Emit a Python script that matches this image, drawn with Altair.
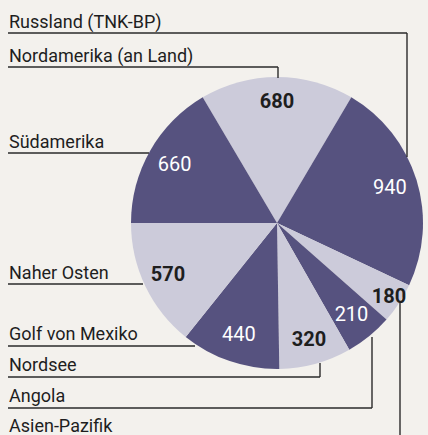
import altair as alt
import pandas as pd

# ---- data (clockwise from the top slice) ----
regions = ["Nordamerika (an Land)", "Russland (TNK-BP)", "Asien-Pazifik", "Angola",
           "Nordsee", "Golf von Mexiko", "Naher Osten", "Südamerika"]
values = [680, 940, 180, 210, 320, 440, 570, 660]

# label column order (top to bottom)
label_names = ["Russland (TNK-BP)", "Nordamerika (an Land)", "Südamerika", "Naher Osten",
               "Golf von Mexiko", "Nordsee", "Angola", "Asien-Pazifik"]

# ---- layout constants ----
W, H = 428, 435
CX, CY, R = 277, 223, 146
START = -0.534  # radians, so the top slice is centred at 12 o'clock
TWO_PI = 6.283185307
DARK = "#56527f"
LIGHT = "#cccbda"
BG = "#f3f1ed"
INK = "#1e1e1e"
FONT = "Roboto, sans-serif"

label_baselines = [28, 62, 148, 279, 340, 371, 402, 432]
leader_segments = [
    (8, 33, 407, 33), (407, 33, 407, 157),
    (8, 67, 278, 67), (278, 67, 278, 78),
    (8, 153, 149, 153),
    (8, 284, 143, 284),
    (8, 346, 195, 346),
    (8, 377, 320, 377), (320, 377, 320, 363),
    (8, 408, 372, 408), (372, 408, 372, 337),
    (400, 303, 400, 435),
]

df = pd.DataFrame({"region": regions, "value": values, "idx": list(range(len(regions)))})
labels_df = pd.DataFrame({"name": label_names, "y": label_baselines})
seg_df = pd.DataFrame(leader_segments, columns=["x1", "y1", "x2", "y2"])

total = sum(values)
theta_scale = alt.Scale(domain=[0, total], range=[START, START + TWO_PI])

base = alt.Chart(df).transform_window(
    cum="sum(value)", sort=[alt.SortField("idx")]
).transform_calculate(
    t0="datum.cum - datum.value", mid="datum.cum - datum.value / 2"
)

shadow = alt.Chart(pd.DataFrame({"v": [1]})).mark_arc(
    radius=R + 1, color="#8a8890", opacity=0.35
).encode(theta=alt.Theta("v:Q"), x=alt.value(CX + 3), y=alt.value(CY + 4))

pie = base.mark_arc(radius=R).encode(
    theta=alt.Theta("t0:Q", scale=theta_scale, stack=None),
    theta2="cum:Q",
    color=alt.Color("region:N",
                    scale=alt.Scale(domain=regions,
                                    range=[LIGHT, DARK, LIGHT, DARK, LIGHT, DARK, LIGHT, DARK]),
                    legend=None),
    x=alt.value(CX), y=alt.value(CY),
)

def nums(filt, radius, **style):
    return base.transform_filter(filt).mark_text(
        font=FONT, fontSize=20, baseline="middle", align="center", radius=radius, **style
    ).encode(
        theta=alt.Theta("mid:Q", scale=theta_scale, stack=None),
        text="value:Q",
        x=alt.value(CX), y=alt.value(CY),
    )

dark_nums = nums("datum.idx % 2 == 1", 118, color="white")
light_nums = nums("datum.idx % 2 == 0 && datum.value >= 200", 121, color=INK, fontWeight="bold")
small_nums = nums("datum.idx % 2 == 0 && datum.value < 200", 134, color=INK, fontWeight="bold")

leaders = alt.Chart(seg_df).mark_rule(color="#2a2a2a", strokeWidth=1.4).encode(
    x=alt.X("x1:Q", scale=None), y=alt.Y("y1:Q", scale=None),
    x2="x2:Q", y2="y2:Q",
)

names = alt.Chart(labels_df).mark_text(
    font=FONT, fontSize=18, color=INK, align="left", baseline="alphabetic"
).encode(
    x=alt.value(9), y=alt.Y("y:Q", scale=None), text="name:N"
)

chart = alt.layer(shadow, pie, dark_nums, light_nums, small_nums, leaders, names).properties(
    width=W, height=H, background=BG, padding=0,
    autosize=alt.AutoSizeParams(type="none"),
).configure_view(stroke=None)

chart.save("out.html", embed_options={"renderer": "svg", "actions": False})
